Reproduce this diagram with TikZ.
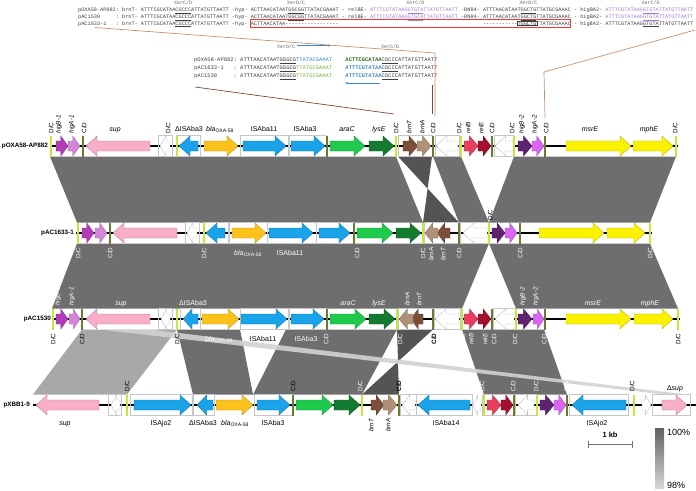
\documentclass[tikz,border=0pt]{standalone}
\usepackage{fontspec}
\setmainfont{Liberation Sans}
\setsansfont{Liberation Sans}
\setmonofont{Liberation Mono}
\usetikzlibrary{arrows.meta}

\definecolor{homc}{HTML}{6E6E6E}
\definecolor{homdk}{HTML}{545454}
\definecolor{homlt}{HTML}{A8A8A8}
\definecolor{bandc}{HTML}{D2D2D2}
\definecolor{dcgreen}{HTML}{C6E83A}
\definecolor{cdolive}{HTML}{6B7A2E}
\definecolor{higBone}{HTML}{B23CB8}
\definecolor{higAone}{HTML}{D487D6}
\definecolor{supink}{HTML}{F8AEC8}
\definecolor{isblue}{HTML}{1AA3E8}
\definecolor{blaorange}{HTML}{FBC21B}
\definecolor{aracgreen}{HTML}{1FC94C}
\definecolor{lysegreen}{HTML}{147A30}
\definecolor{brnTc}{HTML}{7C5038}
\definecolor{brnAc}{HTML}{B09078}
\definecolor{relBc}{HTML}{E63E5C}
\definecolor{relEc}{HTML}{A50E2D}
\definecolor{higBtwo}{HTML}{5E2270}
\definecolor{higAtwo}{HTML}{D966F0}
\definecolor{msryellow}{HTML}{FAF200}
\definecolor{seqpur}{HTML}{A47ADB}
\definecolor{seqblue}{HTML}{3A86D8}
\definecolor{seqgreen}{HTML}{6DB33F}
\definecolor{seqdkgreen}{HTML}{2E6B1E}
\definecolor{callout}{HTML}{C8906E}
\definecolor{calloutdk}{HTML}{8A4632}

% gene arrow: tail x, tip x, track y, colour
\newcommand{\gene}[4]{%
  \pgfmathsetmacro\gbase{#2-sign(#2-#1)*min(11,0.6*abs(#2-#1))}%
  \filldraw[gene, fill=#4, draw=#4!70!black]
    (#1,#3-5) -- (\gbase,#3-5) -- (\gbase,#3-10) -- (#2,#3)
    -- (\gbase,#3+10) -- (\gbase,#3+5) -- (#1,#3+5) -- cycle;}
\newcommand{\isbox}[3]{\draw[isframe] (#1,#3-10.5) rectangle (#2,#3+10.5);}
\newcommand{\dcsite}[2]{\draw[dcbar] (#1,#2-10.5) -- (#1,#2+10.5);}
\newcommand{\cdsite}[2]{\draw[cdbar] (#1,#2-10.5) -- (#1,#2+10.5);}
\newcommand{\core}[1]{\underline{#1}}
\newcommand{\pur}[1]{\textcolor{seqpur}{#1}}
\newcommand{\boxcore}[1]{\rlap{\kern-0.6pt\setlength\fboxsep{0.3pt}\setlength\fboxrule{0.3pt}\fbox{#1}}\phantom{#1}}
\newcommand{\blaoxa}{\textit{bla}\textsubscript{OXA-58}}

\begin{document}
\begin{tikzpicture}[x=1pt, y=-1pt,
    gene/.style={line width=0.3pt},
    isframe/.style={draw=black!22, line width=0.6pt},
    dcbar/.style={draw=dcgreen, line width=1.6pt},
    cdbar/.style={draw=cdolive, line width=1.6pt},
    backbone/.style={draw=black, line width=1.7pt},
    plasmid/.style={font=\sffamily\bfseries\fontsize{6.3}{7}\selectfont, inner sep=0pt, anchor=east},
    vlab/.style={rotate=90, font=\sffamily\fontsize{6.3}{7}\selectfont, inner sep=0.3pt},
    hlab/.style={font=\sffamily\fontsize{7}{8}\selectfont, inner sep=0pt, anchor=base},
    seqrow/.style={anchor=base west, inner sep=0pt, text=black!75,
                   font=\ttfamily\fontsize{5.23}{6}\selectfont},
    midrow/.style={anchor=base west, inner sep=0pt, text=black!75,
                   font=\ttfamily\fontsize{5.48}{6}\selectfont},
    xerlab/.style={anchor=base, inner sep=0pt, text=black!60,
                   font=\ttfamily\fontsize{5}{6}\selectfont},
    xerarrow/.style={draw=seqblue, line width=0.8pt, -{Stealth[length=3pt]}},
    callline/.style={draw=callout, line width=0.7pt},
    scalebar/.style={draw=black!55, line width=0.6pt}
  ]
  \useasboundingbox (0,0) rectangle (696,490);

  % alignment of the XerC/XerD sites
  \foreach \x/\t [count=\i] in {183.1/{XerC/D}, 296.1/{XerD/C}, 415.3/{XerC/D},
                                528.3/{XerD/C}, 650.7/{XerC/D}}
    {\node[xerlab] (xr-\i) at (\x,4.6) {\t};}
  \node[seqrow] (sq-a) at (78,11.8) {pOXA58-AP882: brnT- ATTTCGCATAA\core{CGCCC}ATTATGTTAATT -hyp- ACTTAACATAAT\core{GGCGG}TTATACGAAAT - relBE- \pur{ATTTCGTATAAG\core{GTGTA}TTATGTTAATT} -RNR4- ATTTAACATAAT\core{GGCTG}TTATGCGAAAC - higBA2- \pur{ATTTCGTATAAG\core{GTGTA}TTATGTTAATT}};
  \node[seqrow] (sq-b) at (78,18.4) {pAC1530\hspace*{3em}: brnT- ATTTCGCATAA\core{CGCCC}ATTATGTTAATT -hyp- ACTTAACATAAT\core{GGCGG}TTATACGAAAT - relBE- \pur{ATTTCGTATAAG\core{GTGTA}TTATGTTAATT} -RNR4- ATTTAACATAAT\core{GGCTG}TTATGCGAAAC - higBA2- \pur{ATTTCGTATAAG\core{GTGTA}TTATGTTAATT}};
  \node[seqrow] (sq-c) at (78,25) {pAC1633-1\hspace*{1.8em}: brnT- ATTTCGCATAA\core{CGCCC}ATTATGTTAATT -hyp- ACTTAACATAA-----------------\hspace*{27.6em}-----------\boxcore{TGGCTG}TTATGCGAAAC - higBA2- ATTTCGTATAAG\core{GTGTA}TTATGTTAATT};
  \draw[red!80, line width=0.6pt] (250.6,19.6) rectangle (570.7,27.4);

  \node[xerlab] (xm-a) at (286,48) {XerD/C};
  \node[xerlab] (xm-b) at (390,48) {XerC/D};
  \coordinate (xa-s) at (297,45.5);
  \coordinate (xa-e) at (331,45.5);
  \coordinate (xb-s) at (380,83);
  \coordinate (xb-e) at (345,83);
  \draw[xerarrow] (xa-s) -- (xa-e);
  \draw[xerarrow] (xb-s) -- (xb-e);
  \node[midrow] (md-a) at (194,61.8) {pOXA58-AP882: ATTTAACATAAT\core{GGGCG}\textcolor{seqblue}{TTATACGAAAT}\hspace*{2.4em}\textcolor{seqdkgreen}{\bfseries ACTTCGCATAA}\core{CGCCC}ATTATGTTAATT};
  \node[midrow] (md-b) at (194,69.5) {pAC1633-1\hspace*{1.8em}: ATTTAACATAAT\core{GGGCG}\textcolor{seqgreen}{TTATGCGAAAT}\hspace*{2.4em}\textcolor{seqblue}{\bfseries ATTTCGTATAA}\core{CGCCC}ATTATGTTAATT};
  \node[midrow] (md-c) at (194,77.3) {pAC1530\hspace*{3em}: ATTTAACATAAT\core{GGGCG}\textcolor{seqgreen}{TTATGCGAAAT}\hspace*{2.4em}\textcolor{seqblue}{\bfseries ATTTCGTATAA}\core{CGCCC}ATTATGTTAATT};

  % call-out lines
  \coordinate (co-a) at (95,27.5);
  \coordinate (co-b) at (435,53);
  \coordinate (co-c) at (435,116);
  \coordinate (co-d) at (695,30);
  \coordinate (co-e) at (544,72);
  \coordinate (co-f) at (545,118);
  \coordinate (co-g) at (195,87);
  \coordinate (co-h) at (394,114);
  \coordinate (co-i) at (432,85);
  \coordinate (co-j) at (432,114);
  \draw[callline] (co-a) -- (co-b) -- (co-c);
  \draw[callline] (co-d) -- (co-e) -- (co-f);
  \draw[callline, draw=calloutdk] (co-g) -- (co-h);
  \draw[callline, draw=calloutdk] (co-i) -- (co-j);

  % homologous blocks
  \fill[homc] (50,156.5) -- (396,156.5) -- (423,222.5) -- (77,222.5) -- cycle;
  \fill[homdk] (398,156.5) -- (432,156.5) -- (423,222.5) -- (459,222.5) -- cycle;
  \fill[homc] (433,156.5) -- (461,156.5) -- (489,222.5) -- (459,222.5) -- cycle;
  \fill[homc] (514,156.5) -- (676,156.5) -- (650,222.5) -- (489,222.5) -- cycle;
  \fill[homc] (77,243.5) -- (489,243.5) -- (462,308.5) -- (52,308.5) -- cycle;
  \fill[homc] (489,243.5) -- (650,243.5) -- (678,308.5) -- (516,308.5) -- cycle;
  \fill[homlt] (82,329.5) -- (177,329.5) -- (127,394.5) -- (33,394.5) -- cycle;
  \fill[homc] (177,329.5) -- (240,329.5) -- (253,394.5) -- (193,394.5) -- cycle;
  \fill[homc] (286,329.5) -- (397,329.5) -- (362,394.5) -- (253,394.5) -- cycle;
  \fill[homdk] (397,329.5) -- (433,329.5) -- (362,394.5) -- (399,394.5) -- cycle;
  \fill[homc] (462,329.5) -- (544,329.5) -- (567,394.5) -- (484,394.5) -- cycle;
  \fill[bandc, opacity=0.9] (100,329.5) -- (150,329.5) -- (687,394.5) -- (664,394.5) -- cycle;

  % pOXA58-AP882
  \node[plasmid] (pl-a) at (48,146) {pOXA58-AP882};
  \draw[backbone] (50,146) -- (678,146);
  \foreach \a/\b in {158/172, 176/200, 240/288, 289/326, 398/432, 435/459, 494/513}
    {\isbox{\a}{\b}{146}}
  \gene{56}{68}{146}{higBone}
  \gene{68}{80}{146}{higAone}
  \gene{150}{86}{146}{supink}
  \gene{170}{160}{146}{white}
  \gene{198}{179}{146}{isblue}
  \gene{204}{238}{146}{blaorange}
  \gene{243}{286}{146}{isblue}
  \gene{291}{325}{146}{isblue}
  \gene{330}{365}{146}{aracgreen}
  \gene{369}{394}{146}{lysegreen}
  \gene{403}{418}{146}{brnTc}
  \gene{417}{431}{146}{brnAc}
  \gene{458}{436}{146}{white}
  \gene{464}{478}{146}{relBc}
  \gene{478}{491}{146}{relEc}
  \gene{513}{495}{146}{white}
  \gene{518}{532}{146}{higBtwo}
  \gene{532}{544}{146}{higAtwo}
  \gene{566}{631}{146}{msryellow}
  \gene{633}{673}{146}{msryellow}
  \foreach \x in {51,177,396,461,514,676} {\dcsite{\x}{146}}
  \foreach \x in {83,327,433,492,545} {\cdsite{\x}{146}}

  % pAC1633-1
  \node[plasmid] (pl-b) at (74,233) {pAC1633-1};
  \draw[backbone] (76,233) -- (652,233);
  \foreach \a/\b in {185/199, 203/228, 229/267, 267/316, 316/353, 424/458, 460/488}
    {\isbox{\a}{\b}{233}}
  \gene{82}{94}{233}{higBone}
  \gene{95}{107}{233}{higAone}
  \gene{177}{113}{233}{supink}
  \gene{197}{187}{233}{white}
  \gene{225}{206}{233}{isblue}
  \gene{232}{266}{233}{blaorange}
  \gene{269}{313}{233}{isblue}
  \gene{319}{350}{233}{isblue}
  \gene{357}{393}{233}{aracgreen}
  \gene{396}{421}{233}{lysegreen}
  \gene{450}{437}{233}{brnTc}
  \gene{438}{425}{233}{brnAc}
  \gene{487}{463}{233}{white}
  \gene{492}{505}{233}{higBtwo}
  \gene{505}{517}{233}{higAtwo}
  \gene{539}{604}{233}{msryellow}
  \gene{607}{645}{233}{msryellow}
  \foreach \x in {78,204,423,489,650} {\dcsite{\x}{233}}
  \foreach \x in {110,354,459,520} {\cdsite{\x}{233}}

  % pAC1530
  \node[plasmid] (pl-c) at (51,319) {pAC1530};
  \draw[backbone] (52,319) -- (680,319);
  \foreach \a/\b in {158/172, 180/200, 240/288, 289/326, 398/432, 434/460, 493/515}
    {\isbox{\a}{\b}{319}}
  \gene{56}{68}{319}{higBone}
  \gene{69}{80}{319}{higAone}
  \gene{150}{86}{319}{supink}
  \gene{170}{161}{319}{white}
  \gene{198}{183}{319}{isblue}
  \gene{202}{239}{319}{blaorange}
  \gene{241}{287}{319}{isblue}
  \gene{291}{324}{319}{isblue}
  \gene{330}{366}{319}{aracgreen}
  \gene{369}{395}{319}{lysegreen}
  \gene{423}{411}{319}{brnTc}
  \gene{413}{399}{319}{brnAc}
  \gene{459}{435}{319}{white}
  \gene{464}{478}{319}{relBc}
  \gene{478}{491}{319}{relEc}
  \gene{514}{495}{319}{white}
  \gene{518}{532}{319}{higBtwo}
  \gene{533}{544}{319}{higAtwo}
  \gene{566}{631}{319}{msryellow}
  \gene{634}{673}{319}{msryellow}
  \foreach \x in {53,177,397,462,516,678} {\dcsite{\x}{319}}
  \foreach \x in {82,327,433,492,545} {\cdsite{\x}{319}}

  % pXBB1-9
  \node[plasmid] (pl-d) at (30,405) {pXBB1-9};
  \draw[backbone] (33,405) -- (696,405);
  \foreach \a/\b in {108/121, 130/192, 193/214, 254/292, 400/416, 416/472, 482/515, 515/536, 569/628, 652/690}
    {\isbox{\a}{\b}{405}}
  \gene{99}{36}{405}{supink}
  \gene{120}{111}{405}{white}
  \gene{134}{191}{405}{isblue}
  \gene{213}{197}{405}{isblue}
  \gene{216}{253}{405}{blaorange}
  \gene{257}{290}{405}{isblue}
  \gene{296}{333}{405}{aracgreen}
  \gene{334}{360}{405}{lysegreen}
  \gene{371}{384}{405}{brnTc}
  \gene{383}{397}{405}{brnAc}
  \gene{415}{402}{405}{white}
  \gene{470}{418}{405}{isblue}
  \gene{481}{473}{405}{white}
  \gene{487}{501}{405}{relBc}
  \gene{501}{513}{405}{relEc}
  \gene{534}{518}{405}{white}
  \gene{540}{554}{405}{higBtwo}
  \gene{554}{566}{405}{higAtwo}
  \gene{626}{572}{405}{isblue}
  \gene{642}{651}{405}{white}
  \gene{662}{687}{405}{supink}
  \foreach \x in {127,362,484,537,634} {\dcsite{\x}{405}}
  \foreach \x in {293,399,514,567} {\cdsite{\x}{405}}

  % labels pOXA58-AP882
  \foreach \x/\t [count=\i] in {51/{D/C}, 59/{\textit{higB-1}}, 72/{\textit{higA-1}}, 84/{C/D},
      168/{D/C}, 396/{D/C}, 409/{\textit{brnT}}, 422/{\textit{brnA}}, 433/{C/D},
      459/{D/C}, 468/{\textit{relB}}, 481/{\textit{relE}}, 492/{C/D}, 512/{D/C},
      522/{\textit{higB-2}}, 535/{\textit{higA-2}}, 546/{C/D}, 675/{D/C}}
    {\node[vlab, anchor=west] (ta-\i) at (\x,134) {\t};}
  \foreach \x/\t [count=\i] in {115/{\textit{sup}}, 189/{ΔISAba3}, 220/{\blaoxa},
      264/{ISAba11}, 305/{ISAba3}, 347/{\textit{araC}}, 379/{\textit{lysE}},
      590/{\textit{msrE}}, 649/{\textit{mphE}}}
    {\node[hlab] (tb-\i) at (\x,131.5) {\t};}

  % labels pAC1633-1
  \foreach \x/\t [count=\i] in {78/{D/C}, 110/{C/D}, 204/{D/C}, 357/{C/D}, 423/{D/C},
      431/{\textit{brnA}}, 443/{\textit{brnT}}, 459/{C/D}, 520/{C/D}, 650/{D/C}}
    {\node[vlab, anchor=east, text=white] (tc-\i) at (\x,247) {\t};}
  \node[hlab, text=white] (tc-bla) at (248,255.5) {\blaoxa};
  \node[hlab, text=white] (tc-is) at (290,255.5) {ISAba11};
  \node[vlab, anchor=west] (tc-dc) at (490,221) {D/C};

  % labels pAC1530
  \foreach \x/\t [count=\i] in {58/{\textit{higB-1}}, 72/{\textit{higA-1}}, 407/{\textit{brnA}},
      419/{\textit{brnT}}, 523/{\textit{higB-2}}, 536/{\textit{higA-2}}}
    {\node[vlab, anchor=west, text=white] (td-\i) at (\x,306) {\t};}
  \foreach \x/\t [count=\i] in {121/{\textit{sup}}, 193/{ΔISAba3}, 348/{\textit{araC}},
      379/{\textit{lysE}}, 593/{\textit{msrE}}, 650/{\textit{mphE}}}
    {\node[hlab, text=white] (te-\i) at (\x,305) {\t};}
  \foreach \x/\t [count=\i] in {53/{D/C}, 82/{C/D}, 177/{D/C}, 678/{D/C}}
    {\node[vlab, anchor=east] (tf-\i) at (\x,333) {\t};}
  \node[vlab, anchor=east, font=\sffamily\bfseries\fontsize{6.3}{7}\selectfont] (tf-cd) at (434,333) {C/D};
  \foreach \x/\t [count=\i] in {326/{C/D}, 400/{D/C}, 463/{D/C}, 471/{\textit{relB}},
      485/{\textit{relE}}, 494/{C/D}, 515/{D/C}, 544/{C/D}}
    {\node[vlab, anchor=east, text=white] (tg-\i) at (\x,333) {\t};}
  \node[hlab, text=white] (th-bla) at (219,341) {\blaoxa};
  \node[hlab] (th-isa) at (263,341) {ISAba11};
  \node[hlab, text=white] (th-isb) at (306,341) {ISAba3};

  % labels pXBB1-9
  \foreach \x/\t [count=\i] in {127/{D/C}, 293/{C/D}, 632/{D/C}}
    {\node[vlab, anchor=west] (ti-\i) at (\x,392) {\t};}
  \node[vlab, anchor=west, font=\sffamily\bfseries\fontsize{6.3}{7}\selectfont] (ti-cd) at (399,392) {C/D};
  \foreach \x/\t [count=\i] in {360/{D/C}, 482/{D/C}, 513/{C/D}, 536/{D/C}, 566/{C/D}}
    {\node[vlab, anchor=west, text=white] (tj-\i) at (\x,392) {\t};}
  \node[hlab] (tj-sup) at (675,390) {Δ\textit{sup}};
  \foreach \x/\t [count=\i] in {65/{\textit{sup}}, 161/{ISAjo2}, 203/{ΔISAba3}, 235/{\blaoxa},
      273/{ISAba3}, 446/{ISAba14}, 597/{ISAjo2}}
    {\node[hlab] (tk-\i) at (\x,425) {\t};}
  \foreach \x/\t [count=\i] in {371/{\textit{brnT}}, 388/{\textit{brnA}}}
    {\node[vlab, anchor=east] (tl-\i) at (\x,418) {\t};}

  % scale bar and identity legend
  \coordinate (sb-l) at (588,444);
  \coordinate (sb-r) at (632,444);
  \draw[scalebar] (sb-l) -- (sb-r);
  \draw[scalebar] (588,440.5) -- (588,447.5);
  \draw[scalebar] (632,440.5) -- (632,447.5);
  \node[font=\sffamily\bfseries\fontsize{7.5}{8}\selectfont, inner sep=0pt] (kb) at (610,435) {1 kb};
  \shade[top color=black!62, bottom color=black!16] (655,428) rectangle (664,488);
  \node[font=\sffamily\fontsize{9}{10}\selectfont, inner sep=0pt, anchor=west] (pc-hi) at (667,432) {100\%};
  \node[font=\sffamily\fontsize{9}{10}\selectfont, inner sep=0pt, anchor=west] (pc-lo) at (667,485) {98\%};
\end{tikzpicture}
\end{document}
